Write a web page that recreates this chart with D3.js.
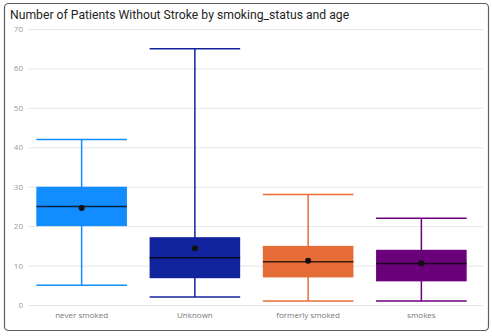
<!DOCTYPE html>
<html><head><meta charset="utf-8">
<script src="https://cdn.jsdelivr.net/npm/d3@7"></script>
<style>body{margin:0;background:#fff;}svg{display:block;}</style>
</head><body><svg id="c" width="492" height="336"></svg>
<script>
const categories = ["never smoked","Unknown","formerly smoked","smokes"];
const whiskerLow = [5, 2, 1, 1];
const q1 = [20, 6.8, 7, 6];
const median = [25, 12, 11, 10.5];
const q3 = [30, 17.2, 15, 14];
const whiskerHigh = [42, 65, 28, 22];
const means = [24.6, 14.4, 11.2, 10.6];
const colors = ["#118DFF","#12239E","#E66C37","#6B007B"];
const yTicks = [0,10,20,30,40,50,60,70];
const title = "Number of Patients Without Stroke by smoking_status and age";

const svg = d3.select("#c");
svg.append("rect").attr("x",4.5).attr("y",3.5).attr("width",484).attr("height",327)
  .attr("rx",4).attr("fill","#fff").attr("stroke","#5e5e5e").attr("stroke-width",1.2);
svg.append("text").attr("x",10).attr("y",19).text(title)
  .attr("font-family","Roboto, 'Open Sans', sans-serif").attr("font-size",12.2).attr("fill","#252423");

const y = d3.scaleLinear().domain([0,70]).range([305,29]);
const x = d3.scaleBand().domain(categories).range([25,478]).paddingInner(0.2).paddingOuter(0.1);

const yAxis = svg.append("g").attr("transform","translate(28,0)")
  .call(d3.axisLeft(y).tickValues(yTicks).tickSize(-455).tickPadding(5));
yAxis.select(".domain").remove();
yAxis.selectAll(".tick line").attr("stroke","#e6e6e6");
yAxis.selectAll("text").attr("fill","#999").attr("font-size",8).attr("font-family","'Open Sans', sans-serif");

const xAxis = svg.append("g").attr("transform","translate(0,305)")
  .call(d3.axisBottom(x).tickSize(0).tickPadding(7));
xAxis.select(".domain").remove();
xAxis.selectAll("text").attr("fill","#777").attr("font-size",8).attr("font-family","'Open Sans', sans-serif");

const data = categories.map((c,i)=>({c, lo:whiskerLow[i], q1:q1[i], med:median[i], q3:q3[i], hi:whiskerHigh[i], mean:means[i], col:colors[i]}));
const g = svg.selectAll(".box").data(data).join("g");
const bw = x.bandwidth();
g.append("line").attr("x1",d=>x(d.c)+bw/2).attr("x2",d=>x(d.c)+bw/2)
  .attr("y1",d=>y(d.lo)).attr("y2",d=>y(d.hi)).attr("stroke",d=>d.col).attr("stroke-width",1.5);
g.append("line").attr("x1",d=>x(d.c)).attr("x2",d=>x(d.c)+bw)
  .attr("y1",d=>y(d.hi)).attr("y2",d=>y(d.hi)).attr("stroke",d=>d.col).attr("stroke-width",1.5);
g.append("line").attr("x1",d=>x(d.c)).attr("x2",d=>x(d.c)+bw)
  .attr("y1",d=>y(d.lo)).attr("y2",d=>y(d.lo)).attr("stroke",d=>d.col).attr("stroke-width",1.5);
g.append("rect").attr("x",d=>x(d.c)).attr("width",bw)
  .attr("y",d=>y(d.q3)).attr("height",d=>y(d.q1)-y(d.q3)).attr("fill",d=>d.col);
g.append("line").attr("x1",d=>x(d.c)).attr("x2",d=>x(d.c)+bw)
  .attr("y1",d=>y(d.med)).attr("y2",d=>y(d.med)).attr("stroke","#000").attr("stroke-opacity",0.75).attr("stroke-width",1.5);
g.append("circle").attr("cx",d=>x(d.c)+bw/2).attr("cy",d=>y(d.mean)).attr("r",3).attr("fill","#111");
</script></body></html>
